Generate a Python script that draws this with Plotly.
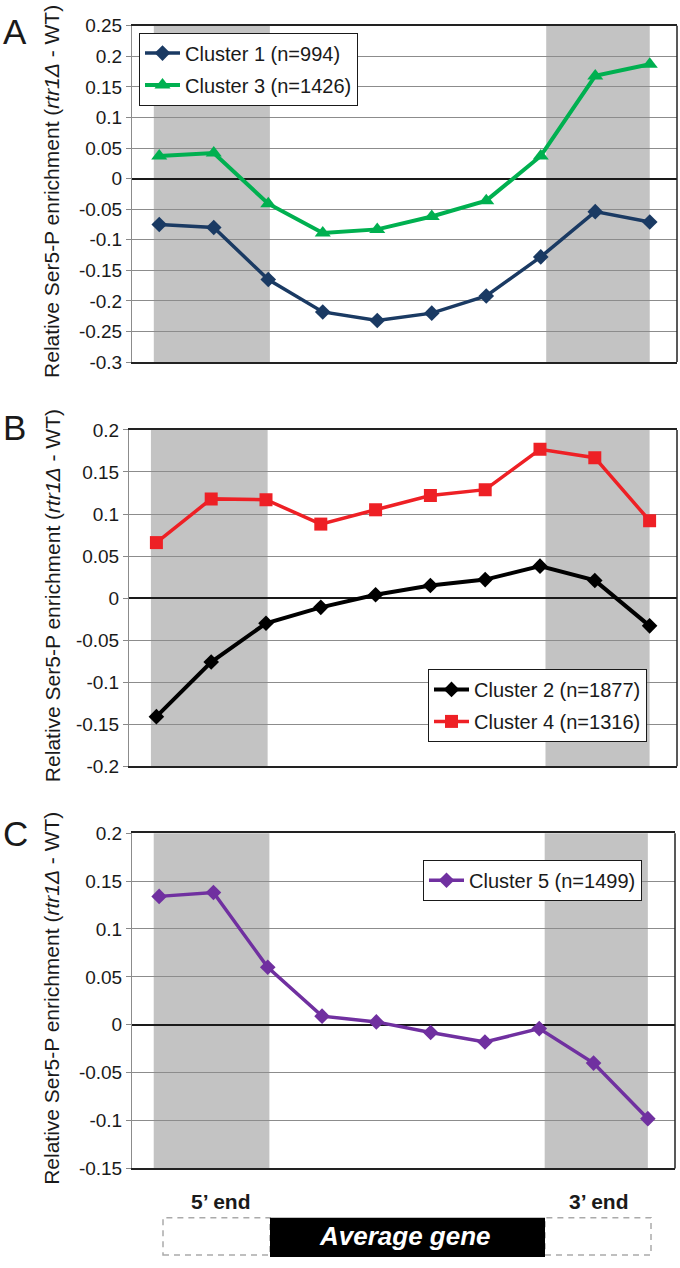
import plotly.graph_objects as go

W, H = 680, 1268
FONT = "Liberation Sans, Arial, sans-serif"

# ---- data ----
positions = list(range(10))  # 10 bins along the average gene

cluster1 = [-0.075, -0.080, -0.165, -0.218, -0.232, -0.220, -0.192, -0.128, -0.054, -0.071]
cluster3 = [0.037, 0.042, -0.041, -0.089, -0.083, -0.062, -0.036, 0.037, 0.168, 0.187]
cluster2 = [-0.141, -0.076, -0.030, -0.011, 0.004, 0.015, 0.022, 0.038, 0.021, -0.033]
cluster4 = [0.066, 0.118, 0.117, 0.088, 0.105, 0.122, 0.129, 0.177, 0.167, 0.092]
cluster5 = [0.134, 0.138, 0.060, 0.009, 0.003, -0.008, -0.018, -0.004, -0.040, -0.098]

ticks_A = [0.25, 0.2, 0.15, 0.1, 0.05, 0, -0.05, -0.1, -0.15, -0.2, -0.25, -0.3]
ticktext_A = ["0.25", "0.2", "0.15", "0.1", "0.05", "0", "-0.05", "-0.1", "-0.15", "-0.2", "-0.25", "-0.3"]
ticks_B = [0.2, 0.15, 0.1, 0.05, 0, -0.05, -0.1, -0.15, -0.2]
ticktext_B = ["0.2", "0.15", "0.1", "0.05", "0", "-0.05", "-0.1", "-0.15", "-0.2"]
ticks_C = [0.2, 0.15, 0.1, 0.05, 0, -0.05, -0.1, -0.15]
ticktext_C = ["0.2", "0.15", "0.1", "0.05", "0", "-0.05", "-0.1", "-0.15"]

band_5p = [-0.1, 2.03]
band_3p = [7.1, 9.0]

ytitle = "Relative Ser5-P enrichment (<i>rtr1Δ</i> - WT)"


def px(x):
    return x / W


def py(y):
    return 1 - y / H


fig = go.Figure()

# panel geometry (pixels): left, right, top, bottom
panels = {
    "A": dict(xa="x", ya="y", l=132, r=677, t=16, b=358, rng=[-0.3, 0.25], tv=ticks_A, tt=ticktext_A),
    "B": dict(xa="x2", ya="y2", l=129, r=677, t=427, b=769, rng=[-0.2, 0.2], tv=ticks_B, tt=ticktext_B),
    "C": dict(xa="x3", ya="y3", l=132, r=675, t=837, b=1178, rng=[-0.15, 0.2], tv=ticks_C, tt=ticktext_C),
}

series = [
    ("A", "Cluster 1 (n=994)", cluster1, "#1a3a63", "diamond", 12, 3.5, "legend"),
    ("A", "Cluster 3 (n=1426)", cluster3, "#00b050", "triangle-up", 14, 4, "legend"),
    ("B", "Cluster 2 (n=1877)", cluster2, "#000000", "diamond", 12, 4, "legend2"),
    ("B", "Cluster 4 (n=1316)", cluster4, "#ee2025", "square", 13, 3.5, "legend2"),
    ("C", "Cluster 5 (n=1499)", cluster5, "#7030a0", "diamond", 12, 3.5, "legend3"),
]

for i, (p, name, vals, col, sym, msz, lw, leg) in enumerate(series):
    pp = panels[p]
    fig.add_trace(go.Scatter(
        x=positions, y=vals, name=name, mode="lines+markers",
        line=dict(color=col, width=lw),
        marker=dict(symbol=sym, size=msz, color=col),
        xaxis=pp["xa"], yaxis=pp["ya"], legend=leg, legendgroup=f"g{i}",
    ))

layout = dict(
    width=W, height=H, margin=dict(l=0, r=0, t=0, b=0),
    paper_bgcolor="white", plot_bgcolor="rgba(0,0,0,0)",
    font=dict(family=FONT, color="#1a1a1a"),
    showlegend=True,
)

shapes = []
annotations = []
for key, pp in panels.items():
    xname = "xaxis" if pp["xa"] == "x" else "xaxis" + pp["xa"][1:]
    yname = "yaxis" if pp["ya"] == "y" else "yaxis" + pp["ya"][1:]
    layout[xname] = dict(
        domain=[px(pp["l"]), px(pp["r"])], range=[-0.5, 9.5], anchor=pp["ya"],
        showgrid=False, zeroline=False, showticklabels=False, ticks="",
        showline=True, linecolor="#222222", linewidth=1.5, mirror=True, fixedrange=True,
    )
    layout[yname] = dict(
        domain=[py(pp["b"]), py(pp["t"])], range=pp["rng"], anchor=pp["xa"],
        tickvals=pp["tv"], ticktext=pp["tt"], tickfont=dict(size=19, family=FONT, color="#1a1a1a"),
        ticks="outside", ticklen=5, tickcolor="#888888",
        showgrid=True, gridcolor="#8c8c8c", gridwidth=1,
        zeroline=True, zerolinecolor="#1a1a1a", zerolinewidth=1.5,
        showline=True, linecolor="#8c8c8c", linewidth=1, fixedrange=True,
    )
    # grey shaded 5' and 3' regions (below gridlines)
    for band in (band_5p, band_3p):
        shapes.append(dict(
            type="rect", xref=pp["xa"], yref=f"{pp['ya']} domain",
            x0=band[0], x1=band[1], y0=0, y1=1,
            fillcolor="#c3c3c3", line=dict(width=0), layer="below",
        ))
    # dark right border
    shapes.append(dict(
        type="line", xref=f"{pp['xa']} domain", yref=f"{pp['ya']} domain",
        x0=1, x1=1, y0=0, y1=1, line=dict(color="#222222", width=1.5), layer="above",
    ))
    # y-axis title
    annotations.append(dict(
        text=ytitle, xref="paper", yref="paper", x=px(52), y=py((pp["t"] + pp["b"]) / 2 - 2),
        xanchor="center", yanchor="middle", textangle=-90, showarrow=False,
        font=dict(size=21, family=FONT, color="#1a1a1a"),
    ))

# panel letters
for letter, ycen in (("A", 22), ("B", 425), ("C", 837)):
    annotations.append(dict(
        text=letter, xref="paper", yref="paper", x=px(1), y=py(ycen),
        xanchor="left", yanchor="middle", showarrow=False,
        font=dict(size=35, family=FONT, color="#1a1a1a"),
    ))

# legends
legend_common = dict(
    bgcolor="white", bordercolor="#1a1a1a", borderwidth=1,
    font=dict(size=20, family=FONT, color="#1a1a1a"),
    xanchor="left", yanchor="top", tracegroupgap=3, itemwidth=35,
)
layout["legend"] = dict(legend_common, x=px(139), y=py(23))
layout["legend2"] = dict(legend_common, x=px(428), y=py(670))
layout["legend3"] = dict(legend_common, x=px(423), y=py(864))

# average gene schematic
shapes.append(dict(type="rect", xref="paper", yref="paper", x0=px(163), x1=px(270), y0=py(1266), y1=py(1228),
                   line=dict(color="#aaaaaa", width=1.5, dash="6px,5px"), fillcolor="white"))
shapes.append(dict(type="rect", xref="paper", yref="paper", x0=px(545), x1=px(651), y0=py(1266), y1=py(1228),
                   line=dict(color="#aaaaaa", width=1.5, dash="6px,5px"), fillcolor="white"))
shapes.append(dict(type="rect", xref="paper", yref="paper", x0=px(270), x1=px(545), y0=py(1268), y1=py(1228),
                   line=dict(width=0), fillcolor="black"))
annotations.append(dict(text="<b><i>Average gene</i></b>", xref="paper", yref="paper", x=px(405), y=py(1247),
                        xanchor="center", yanchor="middle", showarrow=False,
                        font=dict(size=26, family=FONT, color="white")))
annotations.append(dict(text="<b>5’ end</b>", xref="paper", yref="paper", x=px(221), y=py(1212),
                        xanchor="center", yanchor="middle", showarrow=False,
                        font=dict(size=21, family=FONT, color="#1a1a1a")))
annotations.append(dict(text="<b>3’ end</b>", xref="paper", yref="paper", x=px(599), y=py(1212),
                        xanchor="center", yanchor="middle", showarrow=False,
                        font=dict(size=21, family=FONT, color="#1a1a1a")))

layout["shapes"] = shapes
layout["annotations"] = annotations
fig.update_layout(**layout)

fig.write_html(
    "out.html",
    config={"displayModeBar": False},
    post_script="document.body.style.margin='0';document.body.style.overflow='hidden';",
)
